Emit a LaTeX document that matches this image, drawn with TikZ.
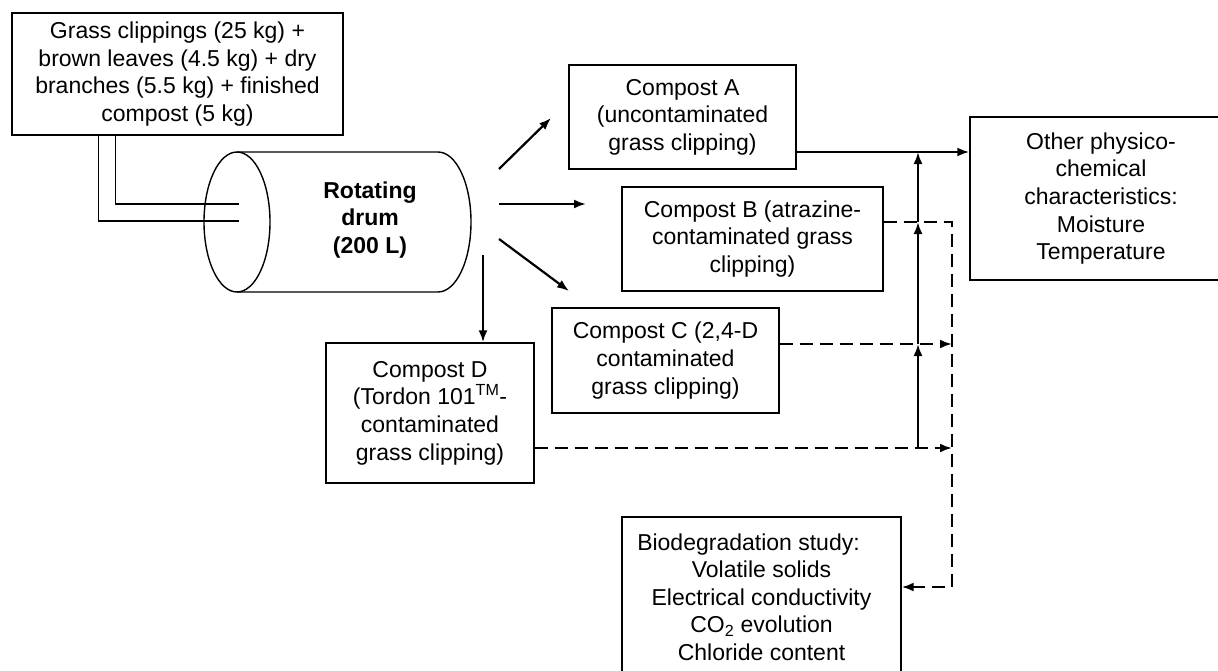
\documentclass[tikz,border=0pt]{standalone}
\usepackage{fontspec}
\setmainfont{Liberation Sans}
\usetikzlibrary{arrows.meta}
\tikzset{
  box/.style={draw, line width=1.4pt, inner sep=0pt, align=center},
  flow/.style={line width=2.2pt, -{Latex[length=12pt,width=9pt]}},
  feedline/.style={line width=1.6pt},
  dashline/.style={dash pattern=on 13pt off 7pt},
}

\begin{document}
\begin{tikzpicture}[x=1pt, y=-1pt, font=\fontsize{23}{27.6}\selectfont]
			%%%%% START %%%%%
			\useasboundingbox (0,0) rectangle (1218,670);
			
			% boxes
			\node[box, minimum width=331, minimum height=122] (feed) at (177.5,74)
				{Grass clippings (25 kg) +\\ brown leaves (4.5 kg) + dry\\ branches (5.5 kg) + finished\\ compost (5 kg)};
			\node[box, minimum width=227, minimum height=104] (A) at (682.5,117)
				{Compost A\\ (uncontaminated\\ grass clipping)};
			\node[box, minimum width=261, minimum height=104] (B) at (752.5,239)
				{Compost B (atrazine-\\ contaminated grass\\ clipping)};
			\node[box, minimum width=227, minimum height=105] (C) at (665.5,360.5)
				{Compost C (2,4-D\\ contaminated\\ grass clipping)};
			\node[box, minimum width=208, minimum height=140] (D) at (430,413)
				{Compost D\\ (Tordon 101\textsuperscript{TM}-\\ contaminated\\ grass clipping)};
			\node[box, minimum width=262, minimum height=163] (other) at (1101,198.5)
				{Other physico-\\ chemical\\ characteristics:\\ Moisture\\ Temperature};
			\node[box, minimum width=279, minimum height=160] (bio) at (761.5,597)
				{Biodegradation study:\rule{26pt}{0pt}\\ Volatile solids\\ Electrical conductivity\\ CO\textsubscript{2} evolution\\ Chloride content};
			
			% drum
			\draw[line width=1.4pt] (237,222) ellipse [x radius=33, y radius=70];
			\draw[line width=1.4pt] (237,152) -- (438,152) arc[start angle=-90, end angle=90, x radius=33, y radius=70] -- (237,292);
			\node[font=\fontsize{23}{27.6}\selectfont\bfseries, align=center] (drum) at (370,220) {Rotating\\ drum\\ (200 L)};
			
			% feed into drum
			\coordinate (inhi) at (239,204);
			\coordinate (inlo) at (239,221);
			\draw[feedline] ([xshift=104pt]feed.south west) |- (inhi);
			\draw[feedline] ([xshift=87pt]feed.south west) |- (inlo);
			
			% drum outlets
			\coordinate (oA) at (499,169);
			\coordinate (oB) at (499,204);
			\coordinate (oC) at (499,239);
			\coordinate (oD) at (483,255);
			\draw[flow] (oA) -- (551,118);
			\draw[flow] (oB) -- (586,204);
			\draw[flow] (oC) -- (569,291);
			\draw[flow] (oD) -- (oD |- D.north);
			
			% junctions
			\coordinate (sA) at (918,152);
			\coordinate (sB) at (918,222);
			\coordinate (sC) at (918,344);
			\coordinate (sD) at (918,448);
			\coordinate (tB) at (952,222);
			\coordinate (tE) at (952,587);
			
			\draw[flow] (A.east |- sA) -- (other.west |- sA);
			\draw[flow] (sD) -- (sC);
			\draw[flow] (sC) -- (sB);
			\draw[flow] (sB) -- (sA);
			
			\draw[flow, dashline] (B.east |- sB) -- (tB) -- (tE) -- (bio.east |- tE);
			\draw[flow, dashline] (C.east |- sC) -- (sC -| tB);
			\draw[flow, dashline] (D.east |- sD) -- (sD -| tB);
			%%%%% END %%%%%
\end{tikzpicture}
\end{document}
